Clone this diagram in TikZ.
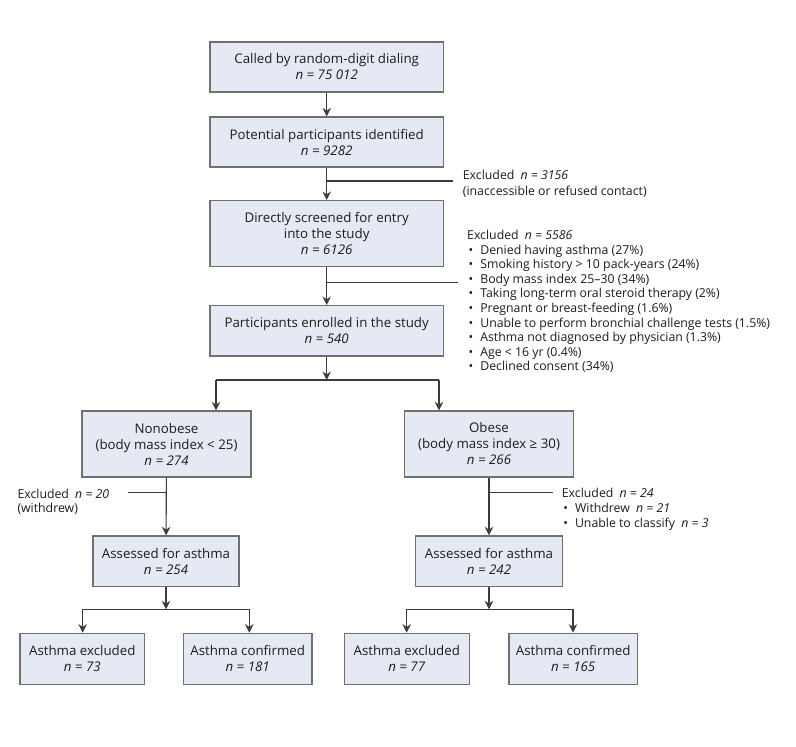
\documentclass[tikz,border=0pt]{standalone}
\usepackage{fontspec}
\setmainfont{Open Sans}
\usetikzlibrary{arrows.meta}
\definecolor{boxfill}{RGB}{229,233,243}
\definecolor{boxline}{RGB}{112,112,112}
\definecolor{conn}{RGB}{60,60,60}
\definecolor{txt}{RGB}{30,28,28}
\begin{document}
\begin{tikzpicture}[x=1pt,y=-1pt,
  box/.style={draw=boxline, fill=boxfill, line width=1.3pt, align=center,
    inner sep=0pt, text=txt, font=\fontsize{13.3}{16}\selectfont},
  note/.style={align=left, inner sep=0pt, anchor=west, text=txt,
    font=\fontsize{12.3}{15}\selectfont},
  conline/.style={draw=conn, line width=1.1pt},
  arr/.style={conline, -{Stealth[length=8.5pt,width=8.5pt,inset=2.8pt]}}]
\useasboundingbox (0,0) rectangle (796,747);
\fill[white] (0,0) rectangle (796,747);

% main column
\node[box, minimum width=233.3, minimum height=50] (b1) at (326.7,67)
  {Called by random-digit dialing\\\textit{n = 75 012}};
\node[box, minimum width=233.3, minimum height=50] (b2) at (326.7,142)
  {Potential participants identified\\\textit{n = 9282}};
\node[box, minimum width=233.3, minimum height=66] (b3) at (326.7,233.7)
  {Directly screened for entry\\into the study\\\textit{n = 6126}};
\node[box, minimum width=233.3, minimum height=50.3] (b4) at (326.7,330.8)
  {Participants enrolled in the study\\\textit{n = 540}};

% groups
\node[box, minimum width=169, minimum height=66] (non) at (166.5,444)
  {Nonobese\\(body mass index < 25)\\\textit{n = 274}};
\node[box, minimum width=169.4, minimum height=66] (ob) at (489,444)
  {Obese\\(body mass index ≥ 30)\\\textit{n = 266}};

\node[box, minimum width=146, minimum height=50.7] (aL) at (166,561.3)
  {Assessed for asthma\\\textit{n = 254}};
\node[box, minimum width=146.6, minimum height=50.7] (aR) at (489,561.3)
  {Assessed for asthma\\\textit{n = 242}};

\node[box, minimum width=124.7, minimum height=51] (bA) at (82.3,658.8)
  {Asthma excluded\\\textit{n = 73}};
\node[box, minimum width=128.7, minimum height=51] (bB) at (247.7,658.8)
  {Asthma confirmed\\\textit{n = 181}};
\node[box, minimum width=125, minimum height=51] (bC) at (406.8,658.8)
  {Asthma excluded\\\textit{n = 77}};
\node[box, minimum width=128.3, minimum height=51] (bD) at (573.2,658.8)
  {Asthma confirmed\\\textit{n = 165}};

% exclusion notes
\node[note, font=\fontsize{12.3}{16}\selectfont] (ex1) at (462.7,183.7)
  {Excluded\enspace\textit{n = 3156}\\(inaccessible or refused contact)};
\node[note, font=\fontsize{12.3}{14.55}\selectfont] (ex2) at (467,301.5)
  {Excluded\enspace\textit{n = 5586}\\
   \hspace{1.5pt}\textbullet\hspace{7pt}Denied having asthma (27\%)\\
   \hspace{1.5pt}\textbullet\hspace{7pt}Smoking history > 10 pack-years (24\%)\\
   \hspace{1.5pt}\textbullet\hspace{7pt}Body mass index 25–30 (34\%)\\
   \hspace{1.5pt}\textbullet\hspace{7pt}Taking long-term oral steroid therapy (2\%)\\
   \hspace{1.5pt}\textbullet\hspace{7pt}Pregnant or breast-feeding (1.6\%)\\
   \hspace{1.5pt}\textbullet\hspace{7pt}Unable to perform bronchial challenge tests (1.5\%)\\
   \hspace{1.5pt}\textbullet\hspace{7pt}Asthma not diagnosed by physician (1.3\%)\\
   \hspace{1.5pt}\textbullet\hspace{7pt}Age < 16 yr (0.4\%)\\
   \hspace{1.5pt}\textbullet\hspace{7pt}Declined consent (34\%)};
\node[note, font=\fontsize{12.3}{14}\selectfont] (ex3) at (17.3,501.3)
  {Excluded\enspace\textit{n = 20}\\(withdrew)};
\node[note] (ex4) at (561.7,509.3)
  {Excluded\enspace\textit{n = 24}\\
   \hspace{1.5pt}\textbullet\hspace{7pt}Withdrew\enspace\textit{n = 21}\\
   \hspace{1.5pt}\textbullet\hspace{7pt}Unable to classify\enspace\textit{n = 3}};

% main connectors
\draw[arr] (b1) -- (b2);
\draw[arr] (b2) -- (b3);
\draw[arr] (b3) -- (b4);
\coordinate (e1) at (453,181);
\coordinate (e2) at (458,282.7);
\draw[conline] (b2.south |- e1) -- (e1);
\draw[conline] (b3.south |- e2) -- (e2);

% split to groups
\coordinate (s1) at (326.7,380);
\coordinate (sL) at (216,380);
\coordinate (sR) at (439,380);
\draw[arr] (b4) -- (s1);
\draw[conline] (sL) -- (sR);
\draw[arr] (sL) -- (sL |- non.north);
\draw[arr] (sR) -- (sR |- ob.north);

% group to assessed
\draw[arr] (non) -- (aL);
\draw[arr] (ob) -- (aR);
\coordinate (e3) at (127.7,492.3);
\coordinate (e4) at (553.3,492.3);
\draw[conline] (e3) -- (non.south |- e3);
\draw[conline] (ob.south |- e4) -- (e4);

% assessed to outcomes
\coordinate (tL) at (166,609.3);
\coordinate (tLa) at (82.7,609.3);
\coordinate (tLb) at (249.3,609.3);
\coordinate (tR) at (489,609.3);
\coordinate (tRa) at (406.7,609.3);
\coordinate (tRb) at (573,609.3);
\draw[arr] (aL) -- (tL);
\draw[arr] (aR) -- (tR);
\draw[conline] (tLa) -- (tLb);
\draw[conline] (tRa) -- (tRb);
\draw[arr] (tLa) -- (tLa |- bA.north);
\draw[arr] (tLb) -- (tLb |- bB.north);
\draw[arr] (tRa) -- (tRa |- bC.north);
\draw[arr] (tRb) -- (tRb |- bD.north);
\end{tikzpicture}
\end{document}
